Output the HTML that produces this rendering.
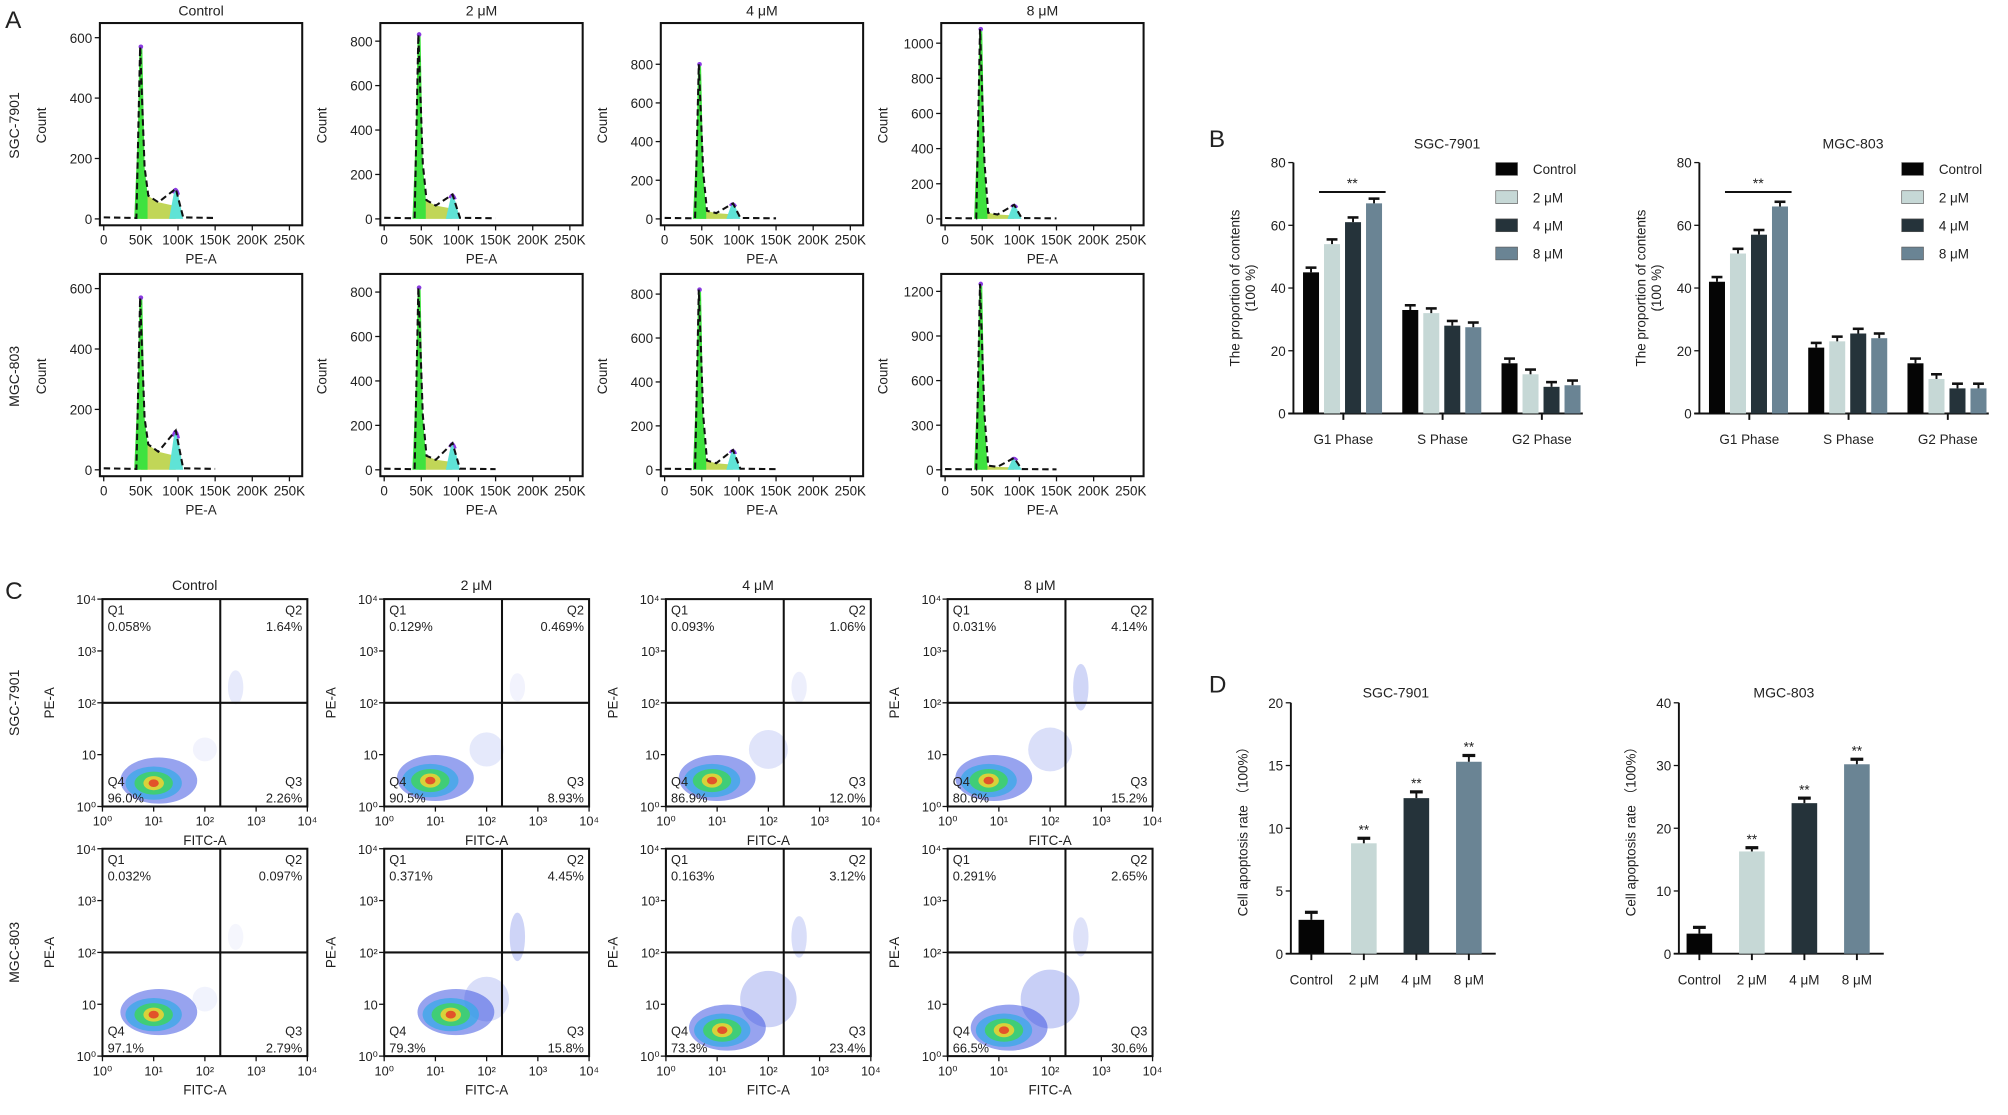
<!DOCTYPE html>
<html><head><meta charset="utf-8"><style>
html,body{margin:0;padding:0;background:#fff}
svg{display:block}
text{font-family:"Liberation Sans",sans-serif;fill:#222}
</style></head><body>
<svg id="fig" width="2008" height="1115" viewBox="0 0 1568 871" preserveAspectRatio="none" xmlns="http://www.w3.org/2000/svg">
<text x="4" y="22" font-size="19">A</text>
<text x="944" y="115" font-size="19">B</text>
<text x="4" y="468" font-size="19">C</text>
<text x="944" y="541" font-size="19">D</text>
</svg>
<script>
// ---------- DATA ----------
const doses = ["Control","2 μM","4 μM","8 μM"];
const cellLines = ["SGC-7901","MGC-803"];
// Panel A histograms
const histYMax = [[640,870,1000,1100],[640,870,880,1300]];
const histTicks = [[[0,200,400,600],[0,200,400,600,800],[0,200,400,600,800],[0,200,400,600,800,1000]],
                   [[0,200,400,600],[0,200,400,600,800],[0,200,400,600,800],[0,300,600,900,1200]]];
const g1Peak = [[570,830,800,1080],[570,820,820,1250]];
const g1Pos = [[50,47,47,48],[50,47,47,48]];
const sLevel = [[55,60,30,25],[60,45,30,20]];
const g2Peak = [[100,110,80,80],[130,120,90,80]];
const g2Pos = [[97,92,92,93],[97,92,92,93]];
const xTicksA = ["0","50K","100K","150K","200K","250K"];
// Panel B
const phases = ["G1 Phase","S Phase","G2 Phase"];
const bSGC = [[45,54,61,67],[33,32,28,27.5],[16,12.5,8.5,9]];
const bMGC = [[42,51,57,66],[21,23,25.5,24],[16,11,8,8]];
const bErr = 1.5;
const bTicks = [0,20,40,60,80];
// Panel C
const q1 = [["0.058%","0.129%","0.093%","0.031%"],["0.032%","0.371%","0.163%","0.291%"]];
const q2 = [["1.64%","0.469%","1.06%","4.14%"],["0.097%","4.45%","3.12%","2.65%"]];
const q3 = [["2.26%","8.93%","12.0%","15.2%"],["2.79%","15.8%","23.4%","30.6%"]];
const q4 = [["96.0%","90.5%","86.9%","80.6%"],["97.1%","79.3%","73.3%","66.5%"]];
const clusterX = [[1.0,0.9,0.9,0.8],[1.0,1.3,1.1,1.1]];
const clusterY = [[0.45,0.5,0.5,0.5],[0.8,0.8,0.5,0.5]];
// Panel D
const dSGC = [2.7,8.8,12.4,15.3];
const dSGCErr = [0.6,0.4,0.5,0.5];
const dMGC = [3.2,16.3,24.0,30.2];
const dMGCErr = [1.0,0.6,0.8,0.8];
const dTicksSGC = [0,5,10,15,20];
const dTicksMGC = [0,10,20,30,40];
const colors = ["#050505","#c6d8d6","#25333a","#6a8494"];

// ---------- helpers ----------
const svg = document.getElementById('fig');
const NS = "http://www.w3.org/2000/svg";
function mk(tag, attrs, parent, txt){
  const e = document.createElementNS(NS, tag);
  for (const k in attrs) e.setAttribute(k, attrs[k]);
  if (txt !== undefined) e.textContent = txt;
  (parent||svg).appendChild(e);
  return e;
}
function grp(name){
  const g = mk('g',{});
  
  
  return g;
}

// ---------- Panel A ----------
const aLeft = [78,297,516,735], aTop = [18,214], aW = 158, aH = 158;
for (let r=0;r<2;r++){
  const rl = mk('text',{x:0,y:0,'font-size':11,'text-anchor':'middle',transform:`translate(15,${aTop[r]+80}) rotate(-90)`}, svg, cellLines[r]);
  
  
  for (let c=0;c<4;c++){
    const g = grp('histogram-'+r+'-'+c);
    const L=aLeft[c], T=aTop[r], B=T+aH, R=L+aW;
    const xs = v => L+3+v/250*145;
    const y0 = B-5, ytop=T+2;
    const ys = v => y0-(v/histYMax[r][c])*(y0-ytop);
    if (r===0){ const t=mk('text',{x:L+aW/2,y:12,'font-size':11,'text-anchor':'middle'},g,doses[c]);   }
    const p1=g1Pos[r][c], p2=g2Pos[r][c];
    mk('path',{d:`M${xs(p1)},${ys(0)} L${xs(p1+2)},${ys(sLevel[r][c]*1.6)} L${xs((p1+p2)/2)},${ys(sLevel[r][c])} L${xs(p2-3)},${ys(sLevel[r][c]*0.8)} L${xs(p2)},${ys(0)} Z`,fill:'#b6cf3a',opacity:0.85},g);
    mk('path',{d:`M${xs(p2-9)},${ys(0)} L${xs(p2-3)},${ys(g2Peak[r][c]*0.8)} L${xs(p2)},${ys(g2Peak[r][c])} L${xs(p2+4)},${ys(g2Peak[r][c]*0.7)} L${xs(p2+10)},${ys(0)} Z`,fill:'#5fe3d6'},g);
    mk('path',{d:`M${xs(p2-4)},${ys(g2Peak[r][c]*0.85)} Q${xs(p2)},${ys(g2Peak[r][c]*1.15)} ${xs(p2+4)},${ys(g2Peak[r][c]*0.8)}`,fill:'none',stroke:'#8a3be0','stroke-width':2},g);
    mk('path',{d:`M${xs(p1-9)},${ys(0)} L${xs(p1-4)},${ys(g1Peak[r][c]*0.5)} L${xs(p1-2)},${ys(g1Peak[r][c])} L${xs(p1+2)},${ys(g1Peak[r][c])} L${xs(p1+5)},${ys(g1Peak[r][c]*0.3)} L${xs(p1+9)},${ys(sLevel[r][c]*1.5)} L${xs(p1+9)},${ys(0)} Z`,fill:'#3fe23f'},g);
    mk('circle',{cx:xs(p1),cy:ys(g1Peak[r][c]),r:1.8,fill:'#8a3be0'},g);
    mk('path',{d:`M${xs(0)},${ys(5)} L${xs(p1-6)},${ys(3)} L${xs(p1-1)},${ys(g1Peak[r][c])} L${xs(p1+5)},${ys(g1Peak[r][c]*0.3)} L${xs(p1+10)},${ys(sLevel[r][c]*1.4)} L${xs((p1+p2)/2)},${ys(sLevel[r][c])} L${xs(p2)},${ys(g2Peak[r][c])} L${xs(p2+10)},${ys(5)} L${xs(150)},${ys(3)}`,fill:'none',stroke:'#111','stroke-width':1.6,'stroke-dasharray':'5,3'},g);
    mk('rect',{x:L,y:T,width:aW,height:aH,fill:'none',stroke:'#111','stroke-width':1.6},g);
    histTicks[r][c].forEach(v=>{
      mk('line',{x1:L-4,x2:L,y1:ys(v),y2:ys(v),stroke:'#111'},g);
      mk('text',{x:L-6,y:ys(v)+4,'font-size':10.5,'text-anchor':'end'},g,String(v));
    });
    const yl=mk('text',{x:0,y:0,'font-size':10.5,'text-anchor':'middle',transform:`translate(${L-42},${T+80}) rotate(-90)`},g,'Count');
     
    xTicksA.forEach((t,i)=>{
      mk('line',{x1:xs(i*50),x2:xs(i*50),y1:B,y2:B+4,stroke:'#111'},g);
      mk('text',{x:xs(i*50),y:B+15,'font-size':10.5,'text-anchor':'middle'},g,t);
    });
    const xl=mk('text',{x:L+aW/2,y:B+30,'font-size':10.5,'text-anchor':'middle'},g,'PE-A');
     
  }
}

// ---------- Panel B ----------
function barChartB(ax, title, data){
  const g = grp('cell-cycle-chart-'+title);
  const y0=323, y80=127;
  const ys = v => y0-(v/80)*(y0-y80);
  const xAxisEnd = ax+226;
  mk('text',{x:ax+120,y:116,'font-size':11,'text-anchor':'middle'},g,title);
  mk('line',{x1:ax,x2:ax,y1:y80,y2:y0,stroke:'#111','stroke-width':1.5},g);
  mk('line',{x1:ax-4,x2:xAxisEnd,y1:y0,y2:y0,stroke:'#111','stroke-width':1.5},g);
  bTicks.forEach(v=>{
    mk('line',{x1:ax-4,x2:ax,y1:ys(v),y2:ys(v),stroke:'#111'},g);
    mk('text',{x:ax-6,y:ys(v)+4,'font-size':10.5,'text-anchor':'end'},g,String(v));
  });
  mk('text',{x:0,y:0,'font-size':10.5,'text-anchor':'middle',transform:`translate(${ax-42},${y0-98}) rotate(-90)`},g,'The proportion of contents');
  mk('text',{x:0,y:0,'font-size':10.5,'text-anchor':'middle',transform:`translate(${ax-30},${y0-98}) rotate(-90)`},g,'(100 %)');
  phases.forEach((ph,gi)=>{
    const cx = ax+39+gi*77.5;
    mk('line',{x1:cx,x2:cx,y1:y0,y2:y0+5,stroke:'#111','stroke-width':1.5},g);
    mk('text',{x:cx,y:y0+24,'font-size':10.5,'text-anchor':'middle'},g,ph);
    data[gi].forEach((v,bi)=>{
      const bx = cx-31.5+bi*16.4;
      const bar = mk('rect',{x:bx,y:ys(v),width:12.5,height:y0-ys(v),fill:colors[bi]},g);
      
      
      mk('line',{x1:bx+6.25,x2:bx+6.25,y1:ys(v),y2:ys(v+bErr),stroke:'#111','stroke-width':1.5},g);
      mk('line',{x1:bx+2,x2:bx+10.5,y1:ys(v+bErr),y2:ys(v+bErr),stroke:'#111','stroke-width':2},g);
    });
  });
  const sigY = 150;
  mk('line',{x1:ax+20,x2:ax+72,y1:sigY,y2:sigY,stroke:'#111','stroke-width':1.5},g);
  mk('text',{x:ax+46,y:sigY-3,'font-size':11,'text-anchor':'middle'},g,'**');
  doses.forEach((d,i)=>{
    const ly = 132+i*22;
    const lb=mk('rect',{x:ax+158,y:ly-5,width:17,height:10,fill:colors[i],stroke:'#555','stroke-width':0.5},g);
     
    const lt=mk('text',{x:ax+187,y:ly+4,'font-size':10.5},g,d);
     
  });
}
barChartB(1010,'SGC-7901',bSGC);
barChartB(1327,'MGC-803',bMGC);

// ---------- Panel C ----------
const cLeft = [80,300,520,740], cTop=[468,663], cW=160, cH=162;
const supers = ["⁰","¹","²","³","⁴"];
for (let r=0;r<2;r++){
  const rl = mk('text',{x:0,y:0,'font-size':11,'text-anchor':'middle',transform:`translate(15,${cTop[r]+81}) rotate(-90)`}, svg, cellLines[r]);
  
  
  for (let c=0;c<4;c++){
    const g = grp('dot-plot-'+r+'-'+c);
    const L=cLeft[c], T=cTop[r], B=T+cH, R=L+cW;
    const xs = v => L+v/4*cW;
    const ys = v => B-v/4*cH;
    if (r===0){ mk('text',{x:L+72,y:461,'font-size':11,'text-anchor':'middle'},g,doses[c]); }
    const clipId='clip'+r+c;
    const cp=mk('clipPath',{id:clipId},g); mk('rect',{x:L,y:T,width:cW,height:cH},cp);
    const d = mk('g',{'clip-path':`url(#${clipId})`},g);
    const cx=xs(clusterX[r][c]), cy=ys(clusterY[r][c]);
    const q3v=parseFloat(q3[r][c]), q2v=parseFloat(q2[r][c]);
    mk('ellipse',{cx:xs(2.0),cy:ys(1.1),rx:8+Math.min(q3v,25)*0.6,ry:8+Math.min(q3v,25)*0.6,fill:'#4a60e0',opacity:Math.min(0.3,0.05+q3v*0.01)},d);
    mk('ellipse',{cx:xs(2.6),cy:ys(2.3),rx:6,ry:10+q2v*2,fill:'#4a60e0',opacity:Math.min(0.28,0.05+q2v*0.05)},d);
    mk('ellipse',{cx:cx+4,cy:cy-2,rx:30,ry:18,fill:'#3048e0',opacity:0.5},d);
    mk('ellipse',{cx:cx,cy:cy,rx:22,ry:13,fill:'#38a8e8',opacity:0.75},d);
    mk('ellipse',{cx:cx,cy:cy,rx:15,ry:9,fill:'#3ed26a',opacity:0.9},d);
    mk('ellipse',{cx:cx,cy:cy,rx:8,ry:5.5,fill:'#d8d23a'},d);
    mk('ellipse',{cx:cx,cy:cy,rx:4,ry:3,fill:'#e2532a'},d);
    mk('rect',{x:L,y:T,width:cW,height:cH,fill:'none',stroke:'#111','stroke-width':1.6},g);
    mk('line',{x1:xs(2.3),x2:xs(2.3),y1:T,y2:B,stroke:'#111','stroke-width':1.6},g);
    mk('line',{x1:L,x2:R,y1:ys(2),y2:ys(2),stroke:'#111','stroke-width':1.6},g);
    for (let k=0;k<=4;k++){
      mk('line',{x1:xs(k),x2:xs(k),y1:B,y2:B+4,stroke:'#111'},g);
      mk('text',{x:xs(k),y:B+15,'font-size':10,'text-anchor':'middle'},g,'10'+supers[k]);
      mk('line',{x1:L-4,x2:L,y1:ys(k),y2:ys(k),stroke:'#111'},g);
      mk('text',{x:L-5,y:ys(k)+4,'font-size':10,'text-anchor':'end'},g,k===1?'10':'10'+supers[k]);
    }
    mk('text',{x:L+cW/2,y:B+30,'font-size':10.5,'text-anchor':'middle'},g,'FITC-A');
    mk('text',{x:0,y:0,'font-size':10.5,'text-anchor':'middle',transform:`translate(${L-38},${T+81}) rotate(-90)`},g,'PE-A');
    const fs=10;
    mk('text',{x:L+4,y:T+12,'font-size':fs},g,'Q1');
    mk('text',{x:L+4,y:T+25,'font-size':fs},g,q1[r][c]);
    mk('text',{x:R-4,y:T+12,'font-size':fs,'text-anchor':'end'},g,'Q2');
    mk('text',{x:R-4,y:T+25,'font-size':fs,'text-anchor':'end'},g,q2[r][c]);
    mk('text',{x:L+4,y:B-16,'font-size':fs},g,'Q4');
    mk('text',{x:L+4,y:B-3,'font-size':fs},g,q4[r][c]);
    mk('text',{x:R-4,y:B-16,'font-size':fs,'text-anchor':'end'},g,'Q3');
    mk('text',{x:R-4,y:B-3,'font-size':fs,'text-anchor':'end'},g,q3[r][c]);
  }
}

// ---------- Panel D ----------
function barChartD(ax, title, vals, errs, ticks){
  const g = grp('apoptosis-chart-'+title);
  const y0=745, yT=549, ymax=ticks[ticks.length-1];
  const ys = v => y0-(v/ymax)*(y0-yT);
  mk('text',{x:ax+82,y:545,'font-size':11,'text-anchor':'middle'},g,title);
  mk('line',{x1:ax,x2:ax,y1:yT,y2:y0,stroke:'#111','stroke-width':1.5},g);
  mk('line',{x1:ax-4,x2:ax+160,y1:y0,y2:y0,stroke:'#111','stroke-width':1.5},g);
  ticks.forEach(v=>{
    mk('line',{x1:ax-4,x2:ax,y1:ys(v),y2:ys(v),stroke:'#111'},g);
    mk('text',{x:ax-6,y:ys(v)+4,'font-size':10.5,'text-anchor':'end'},g,String(v));
  });
  mk('text',{x:0,y:0,'font-size':10.5,'text-anchor':'middle',transform:`translate(${ax-34},${y0-98}) rotate(-90)`},g,'Cell apoptosis rate （100%）');
  vals.forEach((v,i)=>{
    const cx = ax+16+i*41;
    const bar=mk('rect',{x:cx-10,y:ys(v),width:20,height:y0-ys(v),fill:colors[i]},g);
    
    
    mk('line',{x1:cx,x2:cx,y1:ys(v),y2:ys(v+errs[i]),stroke:'#111','stroke-width':1.5},g);
    mk('line',{x1:cx-5,x2:cx+5,y1:ys(v+errs[i]),y2:ys(v+errs[i]),stroke:'#111','stroke-width':2.5},g);
    if (i>0) mk('text',{x:cx,y:ys(v+errs[i])-3,'font-size':10.5,'text-anchor':'middle'},g,'**');
    mk('line',{x1:cx,x2:cx,y1:y0,y2:y0+5,stroke:'#111','stroke-width':1.5},g);
    mk('text',{x:cx,y:y0+24,'font-size':10.5,'text-anchor':'middle'},g,doses[i]);
  });
}
barChartD(1008,'SGC-7901',dSGC,dSGCErr,dTicksSGC);
barChartD(1311,'MGC-803',dMGC,dMGCErr,dTicksMGC);
</script>
</body></html>
